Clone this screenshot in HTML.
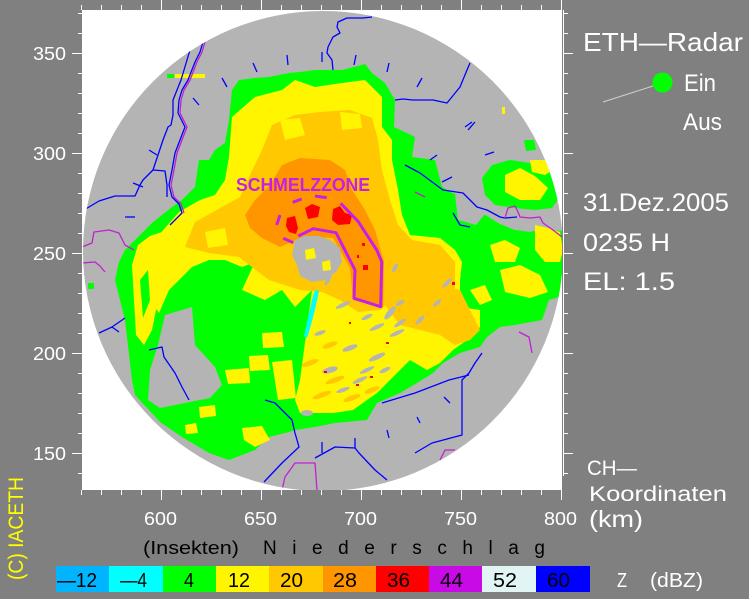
<!DOCTYPE html>
<html><head><meta charset="utf-8">
<style>
html,body{margin:0;padding:0;background:#808080;width:749px;height:599px;overflow:hidden}
svg{display:block}
text{font-family:"Liberation Sans",sans-serif}
</style></head>
<body>
<svg width="749" height="599" viewBox="0 0 749 599" xmlns="http://www.w3.org/2000/svg">
<defs>
<clipPath id="circ"><circle cx="323" cy="251" r="240"/></clipPath>
<clipPath id="box"><rect x="82" y="10" width="480" height="480"/></clipPath>
</defs>
<rect width="749" height="599" fill="#808080"/>
<rect x="82" y="10" width="480" height="480" fill="#ffffff"/>
<g clip-path="url(#box)"><g clip-path="url(#circ)">
<rect x="82" y="10" width="482" height="482" fill="#b4b4b4"/>
<!-- green main -->
<polygon fill="#00ff00" points="229,120 232,90 239,80 255,78 269,77 289,73 300,72 315,70 342,70 358,66 365,64 372,73 385,83 395,100 394,127 415,137 412,157 435,160 442,187 465,200 482,213 500,224 515,230 530,232 545,228 566,232 566,295 549,300 542,320 515,325 500,327 487,337 480,347 460,353 443,363 433,373 417,383 400,393 377,403 367,420 335,423 315,427 295,430 289,432 269,437 255,450 229,460 209,453 182,437 160,422 149,410 135,395 132,380 125,320 115,280 119,262 125,250 142,233 152,223 172,207 182,200 195,187 199,160 209,160 215,150 225,143"/>
<polygon fill="#00ff00" points="482,178 492,165 510,160 530,163 545,166 556,176 561,195 552,208 535,210 515,208 495,205 485,195"/>
<polygon fill="#00ff00" points="524,140 534,140 536,150 526,151"/>
<rect x="88" y="283" width="6" height="6" fill="#00ff00"/>
<!-- gray holes -->
<polygon fill="#b4b4b4" points="165,315 192,307 195,345 215,367 222,385 210,398 185,403 160,408 148,400 150,370 158,345"/>
<polygon fill="#b4b4b4" points="455,195 475,200 485,214 476,225 458,220"/>
<polygon fill="#b4b4b4" points="510,212 530,218 550,220 560,230 545,232 520,230"/>
<!-- yellow main -->
<polygon fill="#fff500" points="229,157 232,117 255,97 282,90 295,80 315,87 342,83 365,80 382,97 382,127 392,140 392,160 398,190 402,215 410,235 440,238 455,250 462,262 460,280 460,307 480,310 480,327 467,340 453,350 440,363 427,370 410,360 377,393 367,400 353,410 333,413 300,413 295,400 300,380 306,335 312,290 295,307 282,290 265,300 242,290 255,262 242,267 225,260 209,260 192,267 169,290 159,313 150,300 145,280 150,245 165,228 179,212 200,200 215,195 225,180"/>
<!-- yellow patches east -->
<polygon fill="#fff500" points="505,175 520,168 535,176 548,188 540,200 520,200 505,192"/>
<polygon fill="#fff500" points="530,160 545,160 553,170 545,175 532,172"/>
<polygon fill="#fff500" points="535,225 548,228 560,232 563,250 560,262 545,262 535,250"/>
<polygon fill="#fff500" points="490,245 505,240 520,248 515,262 495,262"/>
<polygon fill="#fff500" points="500,270 520,265 540,275 548,292 530,298 505,292"/>
<polygon fill="#fff500" points="470,290 485,285 492,300 480,305"/>
<!-- yellow patches SW -->
<polygon fill="#fff500" points="199,407 215,405 216,416 200,418"/>
<polygon fill="#fff500" points="242,428 262,426 270,440 255,447 244,440"/>
<polygon fill="#fff500" points="225,370 249,368 250,383 228,384"/>
<polygon fill="#fff500" points="249,356 268,355 270,370 250,371"/>
<polygon fill="#fff500" points="262,333 282,332 284,347 263,348"/>
<polygon fill="#fff500" points="272,362 292,360 296,398 278,400"/>
<polygon fill="#fff500" points="185,425 196,423 198,433 186,434"/>
<!-- left streaky yellow -->
<polygon fill="#fff500" points="138,245 150,236 162,232 166,250 160,290 152,330 144,345 136,335 134,300 132,265"/>
<polygon fill="#00ff00" points="140,280 148,270 150,300 143,318"/>
<!-- light orange -->
<polygon fill="#ffc800" points="185,247 195,222 222,207 240,197 250,175 262,150 272,125 295,115 320,112 350,110 372,118 378,140 382,170 390,200 398,225 412,240 440,245 455,262 455,290 445,305 420,300 395,298 380,310 358,312 340,300 322,292 300,290 269,280 239,257 209,253"/>
<polygon fill="#ffc800" points="383,285 420,283 460,290 470,310 480,330 470,340 455,345 440,335 420,330 400,325 385,305"/>
<polygon fill="#fff500" points="280,120 300,118 305,135 285,140"/>
<polygon fill="#fff500" points="340,112 360,114 362,128 342,130"/>
<polygon fill="#fff500" points="205,232 225,228 228,245 208,248"/>
<!-- orange -->
<polygon fill="#ff9600" points="245,215 255,200 270,185 282,165 300,158 330,160 345,170 352,190 365,210 375,230 384,262 383,307 353,300 350,268 333,238 303,237 280,247 262,238 250,228"/>
<!-- red -->
<polygon fill="#ff0000" points="305,208 312,204 320,207 318,217 308,219"/>
<polygon fill="#ff0000" points="287,218 295,216 298,228 296,234 289,232 286,226"/>
<polygon fill="#ff0000" points="333,209 340,206 345,213 352,215 350,224 338,225 332,220"/>
<rect x="362" y="243" width="3" height="3" fill="#ff0000"/>
<rect x="363" y="265" width="5" height="5" fill="#ff0000"/>
<rect x="357" y="255" width="2" height="3" fill="#ff0000"/>
<!-- center gray -->
<polygon fill="#b4b4b4" points="295,240 305,236 318,236 330,240 340,248 342,262 336,272 325,280 312,282 300,276 297,265 292,255"/>
<polygon fill="#fff500" points="305,250 314,248 316,258 306,260"/>
<polygon fill="#fff500" points="322,262 330,260 331,270 323,271"/>
<!-- SE streaks light orange -->
<g fill="#ffc800">
<ellipse cx="310" cy="363" rx="9" ry="2.5" transform="rotate(-20 310 363)"/>
<ellipse cx="335" cy="380" rx="10" ry="2.5" transform="rotate(-20 335 380)"/>
<ellipse cx="322" cy="395" rx="10" ry="2.5" transform="rotate(-20 322 395)"/>
<ellipse cx="352" cy="398" rx="9" ry="2.5" transform="rotate(-20 352 398)"/>
<ellipse cx="372" cy="390" rx="8" ry="2.5" transform="rotate(-20 372 390)"/>
<ellipse cx="330" cy="345" rx="8" ry="2.5" transform="rotate(-20 330 345)"/>
</g>
<!-- SE gray streaks -->
<g fill="#b4b4b4">
<ellipse cx="343" cy="305" rx="8" ry="2" transform="rotate(-25 343 305)"/>
<ellipse cx="367" cy="317" rx="6" ry="2" transform="rotate(-25 367 317)"/>
<ellipse cx="390" cy="313" rx="8" ry="3" transform="rotate(-50 390 313)"/>
<ellipse cx="377" cy="327" rx="8" ry="2" transform="rotate(-25 377 327)"/>
<ellipse cx="400" cy="323" rx="7" ry="2" transform="rotate(-35 400 323)"/>
<ellipse cx="397" cy="333" rx="8" ry="2" transform="rotate(-25 397 333)"/>
<ellipse cx="350" cy="348" rx="8" ry="2.5" transform="rotate(-20 350 348)"/>
<ellipse cx="377" cy="357" rx="9" ry="2.5" transform="rotate(-25 377 357)"/>
<ellipse cx="330" cy="370" rx="8" ry="3" transform="rotate(-15 330 370)"/>
<ellipse cx="367" cy="370" rx="8" ry="2" transform="rotate(-25 367 370)"/>
<ellipse cx="385" cy="370" rx="6" ry="2" transform="rotate(-25 385 370)"/>
<ellipse cx="360" cy="380" rx="8" ry="2" transform="rotate(-25 360 380)"/>
<ellipse cx="343" cy="390" rx="7" ry="2" transform="rotate(-20 343 390)"/>
<ellipse cx="307" cy="413" rx="6" ry="3"/>
<ellipse cx="420" cy="320" rx="6" ry="2" transform="rotate(-45 420 320)"/>
<ellipse cx="320" cy="333" rx="6" ry="2" transform="rotate(-20 320 333)"/>
<ellipse cx="447" cy="283" rx="6" ry="2" transform="rotate(-45 447 283)"/>
<ellipse cx="400" cy="303" rx="5" ry="2" transform="rotate(-30 400 303)"/>
<ellipse cx="437" cy="303" rx="5" ry="2" transform="rotate(-40 437 303)"/>
<ellipse cx="328" cy="280" rx="6" ry="2" transform="rotate(-60 328 280)"/>
<ellipse cx="395" cy="268" rx="5" ry="2" transform="rotate(-60 395 268)"/>
</g>
<g fill="#ff0000">
<rect x="370" y="376" width="3" height="2"/><rect x="356" y="384" width="3" height="2"/>
<rect x="349" y="322" width="2" height="2"/><rect x="386" y="342" width="3" height="2"/>
<rect x="452" y="282" width="3" height="3"/><rect x="324" y="371" width="3" height="2"/>
</g>
<!-- cyan streak -->
<polygon fill="#00ffff" points="315,290 319,291 316,305 311,325 307,338 304,336 308,318 312,300"/>
<!-- top specks -->
<rect x="167" y="74" width="7" height="4" fill="#00ff00"/>
<rect x="175" y="74" width="30" height="4" fill="#fff500"/>
<rect x="502" y="107" width="3" height="7" fill="#fff500"/>
<!-- rivers -->
<g fill="none" stroke="#0000ff" stroke-width="1.3" stroke-linejoin="round">
<polyline points="190,50 187,60 181,80 173,100 173,115 171,125 168,127 163,140 153,170 143,180 140,185 135,196 115,196 99,201 84,210"/>
<polyline points="153,170 165,171 167,185 167,197"/>
<polyline points="203,42 200,52 195,62 188,80 182,90 179,100 178,113 185,127 180,140 175,153 172,170 169,185 172,197 179,204 182,213 175,220 170,225"/>
<polyline points="372,17 363,18 347,18 338,22 337,27 340,33 333,37 328,47 327,53 332,60 333,70"/>
<polyline points="470,63 467,70 460,87 447,103 433,100 413,100 403,99 395,100"/>
<polyline points="405,165 420,173 443,190 463,193 477,207 487,210 500,217 505,218 517,217"/>
<polyline points="453,213 460,225 470,227"/>
<polyline points="264,482 282,463 299,447 295,433 292,420 275,403 265,400"/>
<polyline points="315,458 335,447 355,448 359,453 375,470 387,480"/>
<polyline points="355,448 355,438"/>
<polyline points="322,453 322,442"/>
<polyline points="415,453 432,443 462,435 462,403 462,380 469,373 475,363 482,353"/>
<polyline points="382,403 415,393 449,380 469,375"/>
<polyline points="444,397 450,403"/><polyline points="417,417 420,423"/><polyline points="387,430 389,438"/>
<polyline points="99,333 112,327 125,318"/><polyline points="112,327 119,332"/>
<polyline points="149,350 162,347 164,357 175,373 182,387 189,400"/>
<polyline points="253,63 257,72"/><polyline points="287,55 288,65"/><polyline points="322,52 322,62"/>
<polyline points="356,55 354,65"/><polyline points="389,63 387,72"/><polyline points="422,78 417,87"/>
<polyline points="475,122 468,130"/><polyline points="222,78 227,87"/><polyline points="193,98 199,105"/>
<polyline points="149,150 157,155"/><polyline points="125,217 135,217"/><polyline points="133,183 143,187"/>
<polyline points="465,127 472,122"/><polyline points="485,155 494,152"/><polyline points="430,160 437,155"/>
<polyline points="442,182 452,177"/>
</g>
<!-- borders -->
<g fill="none" stroke="#c020d0" stroke-width="1.3" stroke-linejoin="round">
<polyline points="205,42 202,52 197,62 190,80 184,90 181,100 180,113 187,127 182,140 177,153 174,170 171,185 174,197 181,204 184,213"/>
<polyline points="82,247 92,243 94,232 109,230 119,233 125,245 134,250"/>
<polyline points="82,263 95,262 100,266 105,272"/>
<polyline points="282,490 285,477 295,463 315,463 317,490"/>
<polyline points="440,460 445,450 455,450"/>
<polyline points="519,332 529,337 532,353"/>
<polyline points="505,218 508,208 515,206 518,212 520,217 530,218 540,217 543,223 553,230 562,237"/>
<polyline points="415,192 425,197"/>
</g>
<!-- schmelzzone outline -->
<g fill="none" stroke="#c81ee6" stroke-width="3" stroke-linejoin="round">
<line x1="280" y1="215" x2="276.7" y2="225"/>
<line x1="283.3" y1="238.3" x2="293.3" y2="242.7"/>
<line x1="292.7" y1="202.3" x2="301.7" y2="199"/>
<line x1="315" y1="196" x2="326.7" y2="197.7"/>
<polyline points="340.7,203.3 358.3,221.7 376.7,250 381.7,261.7 380.7,306.7 354,298.3 355,270 336,232.7 313.3,228.7 298.3,236"/>
</g>
</g></g>
<text x="236" y="191" font-size="18" font-weight="bold" fill="#c81ee6" textLength="134" lengthAdjust="spacingAndGlyphs">SCHMELZZONE</text>
<!-- right axis line -->
<line x1="563.5" y1="10" x2="563.5" y2="476" stroke="#fff" stroke-width="1"/>
<!-- ticks -->
<g stroke="#fff" stroke-width="1">
<path d="M81.5 5V10M101.5 5V10M121.5 5V10M141.5 5V10M161.5 0V10M181.5 5V10M201.5 5V10M221.5 5V10M241.5 5V10M261.5 0V10M281.5 5V10M301.5 5V10M321.5 5V10M341.5 5V10M361.5 0V10M381.5 5V10M401.5 5V10M421.5 5V10M441.5 5V10M461.5 0V10M481.5 5V10M501.5 5V10M521.5 5V10M541.5 5V10M561.5 0V10"/>
<path d="M81.5 490V495M101.5 490V495M121.5 490V495M141.5 490V495M161.5 490V500M181.5 490V495M201.5 490V495M221.5 490V495M241.5 490V495M261.5 490V500M281.5 490V495M301.5 490V495M321.5 490V495M341.5 490V495M361.5 490V500M381.5 490V495M401.5 490V495M421.5 490V495M441.5 490V495M461.5 490V500M481.5 490V495M501.5 490V495M521.5 490V495M541.5 490V495M561.5 490V500"/>
<path d="M78 13.5H82M78 33.5H82M72 53.5H82M78 73.5H82M78 93.5H82M78 113.5H82M78 133.5H82M72 153.5H82M78 173.5H82M78 193.5H82M78 213.5H82M78 233.5H82M72 253.5H82M78 273.5H82M78 293.5H82M78 313.5H82M78 333.5H82M72 353.5H82M78 373.5H82M78 393.5H82M78 413.5H82M78 433.5H82M72 453.5H82M78 473.5H82"/>
<path d="M563 13.5H568M563 33.5H568M563 53.5H573M563 73.5H568M563 93.5H568M563 113.5H568M563 133.5H568M563 153.5H573M563 173.5H568M563 193.5H568M563 213.5H568M563 233.5H568M563 253.5H573M563 273.5H568M563 293.5H568M563 313.5H568M563 333.5H568M563 353.5H573M563 373.5H568M563 393.5H568M563 413.5H568M563 433.5H568M563 453.5H573M563 473.5H568"/>
</g>
<!-- axis labels -->
<g fill="#fff" font-size="18">
<text x="66" y="60" text-anchor="end" textLength="33" lengthAdjust="spacingAndGlyphs">350</text>
<text x="66" y="160" text-anchor="end" textLength="33" lengthAdjust="spacingAndGlyphs">300</text>
<text x="66" y="260" text-anchor="end" textLength="33" lengthAdjust="spacingAndGlyphs">250</text>
<text x="66" y="360" text-anchor="end" textLength="33" lengthAdjust="spacingAndGlyphs">200</text>
<text x="66" y="460" text-anchor="end" textLength="33" lengthAdjust="spacingAndGlyphs">150</text>
<text x="144" y="525" textLength="33" lengthAdjust="spacingAndGlyphs">600</text>
<text x="244" y="525" textLength="33" lengthAdjust="spacingAndGlyphs">650</text>
<text x="344" y="525" textLength="33" lengthAdjust="spacingAndGlyphs">700</text>
<text x="444" y="525" textLength="33" lengthAdjust="spacingAndGlyphs">750</text>
<text x="544" y="525" textLength="33" lengthAdjust="spacingAndGlyphs">800</text>
</g>
<!-- right panel -->
<g fill="#fff">
<text x="583" y="51" font-size="26" textLength="160" lengthAdjust="spacingAndGlyphs">ETH—Radar</text>
<text x="684" y="91" font-size="24" textLength="32" lengthAdjust="spacingAndGlyphs">Ein</text>
<text x="683" y="130" font-size="24" textLength="39" lengthAdjust="spacingAndGlyphs">Aus</text>
<text x="583" y="211" font-size="25" textLength="146" lengthAdjust="spacingAndGlyphs">31.Dez.2005</text>
<text x="583" y="251" font-size="25" textLength="87" lengthAdjust="spacingAndGlyphs">0235 H</text>
<text x="583" y="290" font-size="25" textLength="92" lengthAdjust="spacingAndGlyphs">EL: 1.5</text>
<text x="587" y="475" font-size="21" textLength="50" lengthAdjust="spacingAndGlyphs">CH—</text>
<text x="589" y="501" font-size="21" textLength="138" lengthAdjust="spacingAndGlyphs">Koordinaten</text>
<text x="589" y="527" font-size="23" textLength="54" lengthAdjust="spacingAndGlyphs">(km)</text>
<text x="617" y="587" font-size="20" textLength="10" lengthAdjust="spacingAndGlyphs">Z</text>
<text x="650" y="587" font-size="20" textLength="53" lengthAdjust="spacingAndGlyphs">(dBZ)</text>
</g>
<line x1="603" y1="102" x2="653" y2="86" stroke="#d0d0d0" stroke-width="1"/>
<circle cx="662.5" cy="82.5" r="10" fill="#00ff00"/>
<!-- bottom labels -->
<text x="143" y="554" font-size="18" fill="#000" textLength="96" lengthAdjust="spacingAndGlyphs">(Insekten)</text>
<text x="263" y="554" font-size="19" fill="#000" textLength="282" lengthAdjust="spacing">N i e d e r s c h l a g</text>
<!-- colorbar -->
<rect x="56" y="566" width="53" height="26" fill="#00b4ff"/>
<rect x="109" y="566" width="54" height="26" fill="#00ffff"/>
<rect x="163" y="566" width="53" height="26" fill="#00ff00"/>
<rect x="216" y="566" width="53" height="26" fill="#fff500"/>
<rect x="269" y="566" width="54" height="26" fill="#ffc800"/>
<rect x="323" y="566" width="53" height="26" fill="#ff9600"/>
<rect x="376" y="566" width="53" height="26" fill="#ff0000"/>
<rect x="429" y="566" width="53" height="26" fill="#c80ae6"/>
<rect x="482" y="566" width="54" height="26" fill="#e1f5f5"/>
<rect x="536" y="566" width="54" height="26" fill="#0000ff"/>
<g fill="#000" font-size="20">
<text x="57" y="587" textLength="40" lengthAdjust="spacingAndGlyphs">—12</text>
<text x="120" y="587" textLength="27" lengthAdjust="spacingAndGlyphs">—4</text>
<text x="184" y="587" textLength="10" lengthAdjust="spacingAndGlyphs">4</text>
<text x="228" y="587" textLength="22" lengthAdjust="spacingAndGlyphs">12</text>
<text x="280" y="587" textLength="23" lengthAdjust="spacingAndGlyphs">20</text>
<text x="333" y="587" textLength="24" lengthAdjust="spacingAndGlyphs">28</text>
<text x="387" y="587" textLength="23" lengthAdjust="spacingAndGlyphs">36</text>
<text x="440" y="587" textLength="23" lengthAdjust="spacingAndGlyphs">44</text>
<text x="493" y="587" textLength="24" lengthAdjust="spacingAndGlyphs">52</text>
<text x="547" y="587" textLength="23" lengthAdjust="spacingAndGlyphs">60</text>
</g>
<text transform="translate(23,580) rotate(-90)" x="0" y="0" font-size="21" fill="#ffff00" textLength="103" lengthAdjust="spacingAndGlyphs">(C) IACETH</text>
</svg>
</body></html>
